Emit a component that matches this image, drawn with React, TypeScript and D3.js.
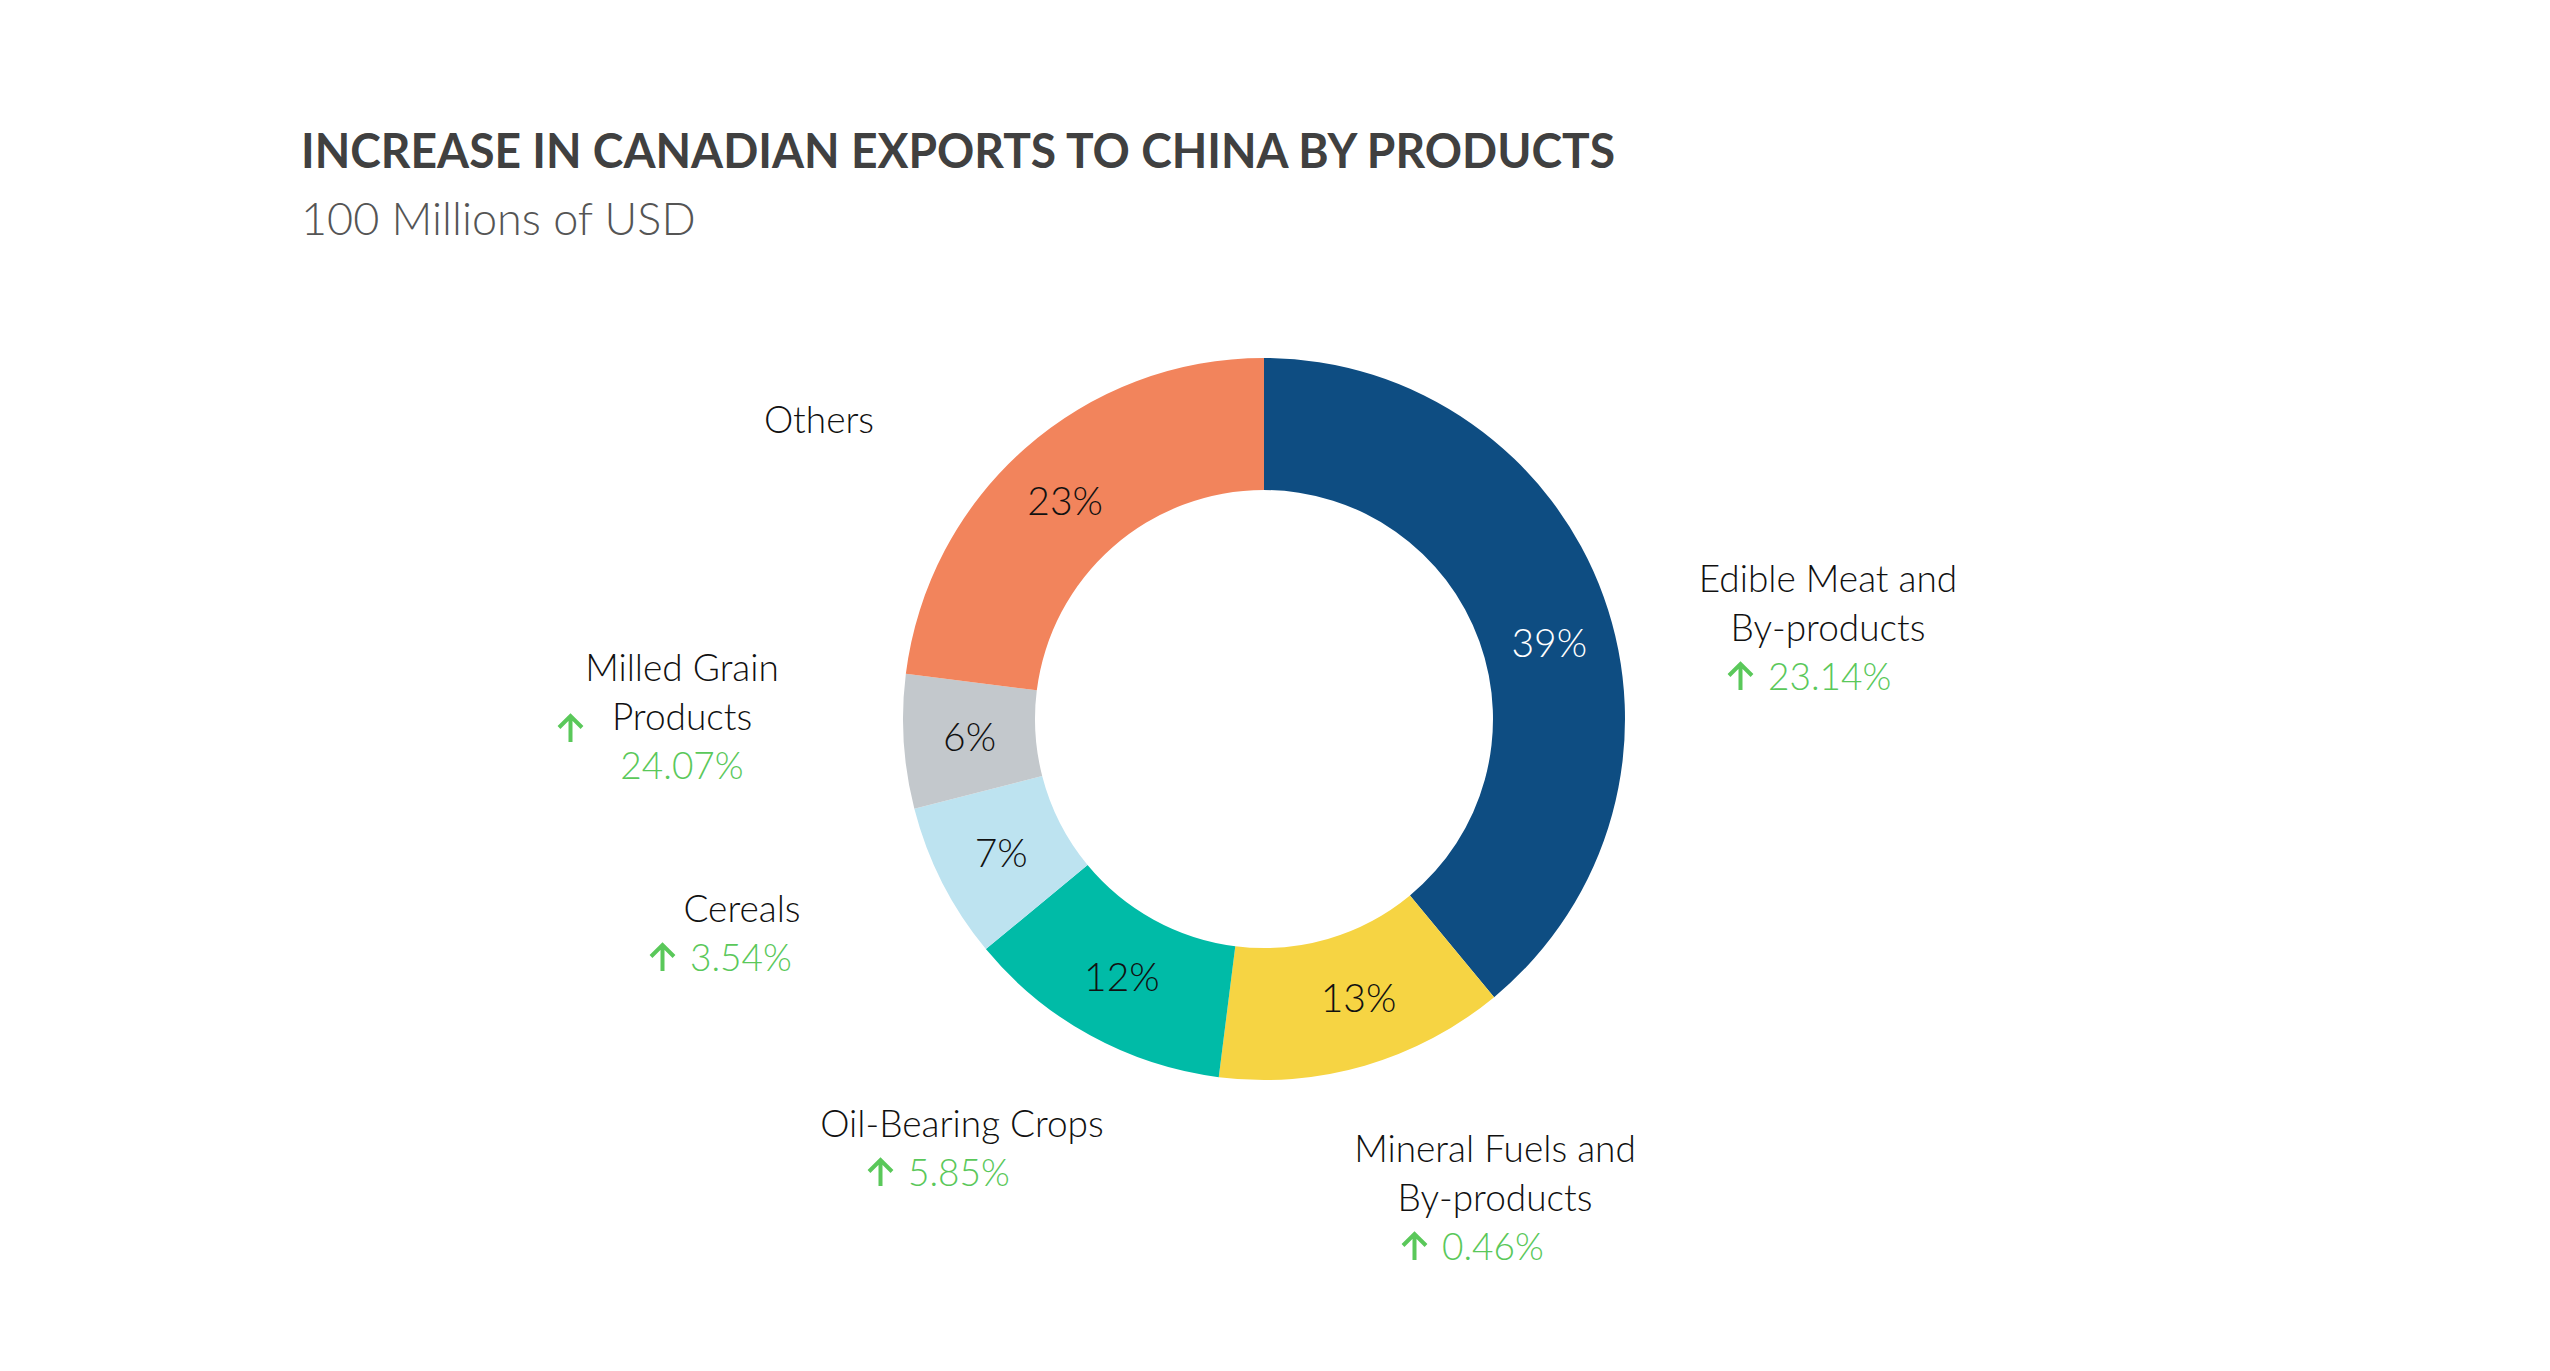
import React from "react";
import * as d3 from "d3";

const TITLE = "INCREASE IN CANADIAN EXPORTS TO CHINA BY PRODUCTS";
const SUBTITLE = "100 Millions of USD";

const categories = [
  ["Edible Meat and", "By-products"],
  ["Mineral Fuels and", "By-products"],
  ["Oil-Bearing Crops"],
  ["Cereals"],
  ["Milled Grain", "Products"],
  ["Others"],
];
const shares = [39, 13, 12, 7, 6, 23];
const growth = ["23.14%", "0.46%", "5.85%", "3.54%", "24.07%", null];

const colors = ["#0e4d82", "#f6d443", "#00bba7", "#bde3f0", "#c3c8cc", "#f2845c"];
const pctColors = ["#ffffff", "#111111", "#111111", "#111111", "#111111", "#111111"];
// small angular nudges (degrees) for the in-ring percentage labels
const pctNudge = [5, -2.5, 0, 0, 0, -1];

// label layout: name center x, first baseline y, growth arrow left x
type Layout = { cx: number; y: number; gx: number; mode: "inline" | "stacked" };
const layout: Layout[] = [
  { cx: 1828, y: 592, gx: 1728, mode: "inline" },
  { cx: 1495, y: 1162, gx: 1402, mode: "inline" },
  { cx: 962, y: 1137, gx: 868, mode: "inline" },
  { cx: 742, y: 922, gx: 650, mode: "inline" },
  { cx: 682, y: 681, gx: 558, mode: "stacked" },
  { cx: 819, y: 433, gx: 0, mode: "inline" },
];

const W = 2550;
const H = 1371;
const CX = 1264;
const CY = 719;
const R_OUT = 361;
const R_IN = 229;
const LINE = 49;
const FONT = "Lato, 'Open Sans', sans-serif";
const GREEN = "#5ac85a";

function Arrow({ x, y }: { x: number; y: number }) {
  const w = 25;
  const h = 27;
  const mx = x + w / 2;
  return (
    <path
      d={`M${mx},${y} L${mx},${y - h + 2} M${x + 1},${y - h + w / 2} L${mx},${y - h + 1} L${x + w - 1},${y - h + w / 2}`}
      fill="none"
      stroke={GREEN}
      strokeWidth={4}
      strokeLinecap="butt"
      strokeLinejoin="miter"
    />
  );
}

export default function App() {
  const pie = d3
    .pie<number>()
    .sort(null)
    .value((d) => d)
    .startAngle(0)
    .endAngle(2 * Math.PI);
  const arcs = pie(shares);
  const arc = d3.arc<d3.PieArcDatum<number>>().innerRadius(R_IN).outerRadius(R_OUT);
  const rMid = (R_IN + R_OUT) / 2;

  return (
    <svg
      width={W}
      height={H}
      style={{ position: "absolute", left: 0, top: 0, background: "#fff" }}
      fontFamily={FONT}
    >
      <rect width={W} height={H} fill="#fff" />
      <text
        x={301}
        y={168}
        fontSize={47}
        fontWeight={700}
        fill="#404040"
        textLength={1314}
        lengthAdjust="spacingAndGlyphs"
      >
        {TITLE}
      </text>
      <text x={301} y={235} fontSize={45} fontWeight={300} fill="#555555">
        {SUBTITLE}
      </text>

      <g transform={`translate(${CX},${CY})`}>
        {arcs.map((a, i) => (
          <path key={i} d={arc(a) || ""} fill={colors[i]} />
        ))}
        {arcs.map((a, i) => {
          const ang = (a.startAngle + a.endAngle) / 2 + (pctNudge[i] * Math.PI) / 180;
          const x = rMid * Math.sin(ang);
          const y = -rMid * Math.cos(ang);
          return (
            <text
              key={"p" + i}
              x={x}
              y={y}
              dy="0.35em"
              textAnchor="middle"
              fontSize={39}
              fontWeight={300}
              fill={pctColors[i]}
            >
              {shares[i]}%
            </text>
          );
        })}
      </g>

      {categories.map((lines, i) => {
        const L = layout[i];
        const g = growth[i];
        return (
          <g key={"l" + i}>
            {lines.map((t, j) => (
              <text
                key={j}
                x={L.cx}
                y={L.y + j * LINE}
                textAnchor="middle"
                fontSize={37}
                fontWeight={300}
                fill="#111111"
              >
                {t}
              </text>
            ))}
            {g && L.mode === "inline" && (
              <g>
                <Arrow x={L.gx} y={L.y + lines.length * LINE} />
                <text
                  x={L.gx + 40}
                  y={L.y + lines.length * LINE}
                  fontSize={37}
                  fontWeight={300}
                  fill={GREEN}
                >
                  {g}
                </text>
              </g>
            )}
            {g && L.mode === "stacked" && (
              <g>
                <Arrow x={L.gx} y={L.y + (lines.length - 1) * LINE + 12} />
                <text
                  x={L.cx}
                  y={L.y + lines.length * LINE}
                  textAnchor="middle"
                  fontSize={37}
                  fontWeight={300}
                  fill={GREEN}
                >
                  {g}
                </text>
              </g>
            )}
          </g>
        );
      })}
    </svg>
  );
}
